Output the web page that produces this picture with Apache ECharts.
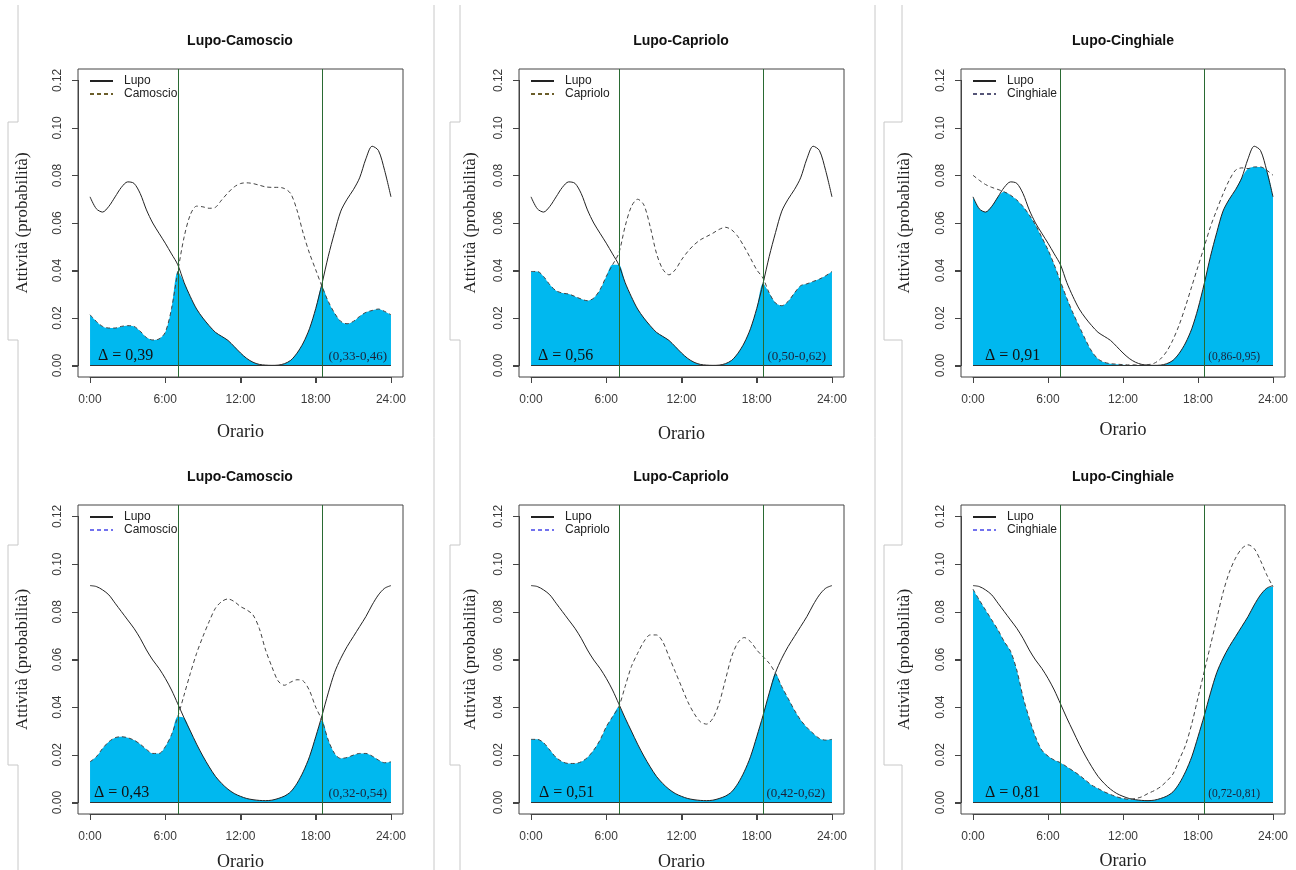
<!DOCTYPE html>
<html><head><meta charset="utf-8">
<script src="https://cdn.jsdelivr.net/npm/echarts@6/dist/echarts.min.js"></script>
<style>html,body{margin:0;padding:0;background:#fff}#c{width:1296px;height:870px}</style>
</head><body><div id="c"></div><script>
// ---------- DATA ----------
const hours = [0,0.5,1,1.5,2,2.5,3,3.5,4,4.5,5,5.5,6,6.5,7,7.5,8,8.5,9,9.5,10,10.5,11,11.5,12,12.5,13,13.5,14,14.5,15,15.5,16,16.5,17,17.5,18,18.5,19,19.5,20,20.5,21,21.5,22,22.5,23,23.5,24];

const lupoTop = [0.0710,0.0660,0.0646,0.0670,0.0710,0.0750,0.0773,0.0767, 0.0724,0.0655,0.0600,0.0557,0.0515,0.0470,0.0424,0.0350, 0.0290,0.0238,0.0200,0.0168,0.0140,0.0123,0.0106,0.0080, 0.0053,0.0030,0.0014,0.0005,0.0002,0.0001,0.0002,0.0008, 0.0022,0.0052,0.0095,0.0155,0.0240,0.0345,0.0460,0.0560, 0.0650,0.0700,0.0740,0.0790,0.0870,0.0923,0.0905,0.0820, 0.0710];
const camoscioTop = [0.0214,0.0186,0.0165,0.0158,0.0158,0.0165,0.0168,0.0165, 0.0145,0.0118,0.0108,0.0112,0.0140,0.0240,0.0396,0.0540, 0.0635,0.0671,0.0668,0.0662,0.0666,0.0697,0.0727,0.0752, 0.0766,0.0769,0.0766,0.0759,0.0752,0.0750,0.0750,0.0745, 0.0724,0.0655,0.0557,0.0473,0.0403,0.0333,0.0270,0.0221, 0.0186,0.0176,0.0186,0.0207,0.0224,0.0232,0.0238,0.0228, 0.0214];
const caprioloTop = [0.0396,0.0396,0.0375,0.0340,0.0315,0.0305,0.0301,0.0291, 0.0280,0.0273,0.0284,0.0319,0.0375,0.0424,0.0473,0.0585, 0.0669,0.0700,0.0676,0.0585,0.0473,0.0406,0.0382,0.0403, 0.0445,0.0480,0.0508,0.0529,0.0543,0.0557,0.0573,0.0582, 0.0571,0.0543,0.0500,0.0452,0.0403,0.0368,0.0305,0.0263, 0.0252,0.0270,0.0305,0.0336,0.0344,0.0354,0.0364,0.0378, 0.0396];
const cinghialeTop = [0.0801,0.0780,0.0762,0.0750,0.0741,0.0731,0.0717,0.0697, 0.0669,0.0634,0.0592,0.0540,0.0487,0.0424,0.0354,0.0284, 0.0221,0.0165,0.0109,0.0060,0.0028,0.0014,0.0008,0.0006, 0.0004,0.0003,0.0003,0.0003,0.0004,0.0010,0.0028,0.0060, 0.0109,0.0172,0.0249,0.0333,0.0417,0.0500,0.0585,0.0655, 0.0722,0.0780,0.0822,0.0832,0.0829,0.0836,0.0836,0.0822, 0.0801];

const lupoBottom = [0.0910,0.0906,0.0892,0.0871,0.0836,0.0801,0.0766,0.0731, 0.0689,0.0640,0.0598,0.0563,0.0521,0.0472,0.0414,0.0355, 0.0300,0.0245,0.0195,0.0150,0.0110,0.0080,0.0056,0.0038, 0.0026,0.0017,0.0012,0.0009,0.0008,0.0010,0.0017,0.0027, 0.0045,0.0080,0.0129,0.0192,0.0276,0.0365,0.0460,0.0545, 0.0605,0.0654,0.0696,0.0738,0.0780,0.0829,0.0871,0.0899, 0.0910];
const camoscioBottom = [0.0171,0.0192,0.0227,0.0255,0.0272,0.0276,0.0272,0.0262, 0.0245,0.0223,0.0206,0.0206,0.0234,0.0285,0.0360,0.0451, 0.0542,0.0626,0.0696,0.0759,0.0815,0.0843,0.0854,0.0843, 0.0822,0.0808,0.0787,0.0730,0.0640,0.0570,0.0510,0.0492, 0.0505,0.0515,0.0510,0.0470,0.0400,0.0345,0.0262,0.0206, 0.0185,0.0189,0.0199,0.0206,0.0206,0.0195,0.0178,0.0167, 0.0171];
const caprioloBottom = [0.0265,0.0265,0.0251,0.0220,0.0189,0.0171,0.0164,0.0164, 0.0171,0.0189,0.0220,0.0262,0.0318,0.0360,0.0402,0.0486, 0.0570,0.0626,0.0675,0.0703,0.0703,0.0675,0.0612,0.0549, 0.0486,0.0423,0.0374,0.0339,0.0329,0.0353,0.0416,0.0514, 0.0612,0.0671,0.0692,0.0675,0.0640,0.0612,0.0584,0.0542, 0.0486,0.0437,0.0388,0.0346,0.0315,0.0290,0.0269,0.0262, 0.0265];
const cinghialeBottom = [0.0895,0.0850,0.0808,0.0766,0.0724,0.0675,0.0635,0.0556, 0.0444,0.0353,0.0276,0.0220,0.0195,0.0178,0.0167,0.0150, 0.0133,0.0115,0.0094,0.0073,0.0059,0.0045,0.0034,0.0024, 0.0017,0.0014,0.0017,0.0024,0.0038,0.0050,0.0066,0.0090, 0.0120,0.0180,0.0240,0.0330,0.0440,0.0550,0.0660,0.0770, 0.0880,0.0965,0.1025,0.1065,0.1081,0.1065,0.1015,0.0955, 0.0905];

const panelTitles = ['Lupo-Camoscio','Lupo-Capriolo','Lupo-Cinghiale','Lupo-Camoscio','Lupo-Capriolo','Lupo-Cinghiale'];
const otherNames = ['Camoscio','Capriolo','Cinghiale','Camoscio','Capriolo','Cinghiale'];
const lupoName = 'Lupo';
const deltaLabels = ['\u0394 = 0,39','\u0394 = 0,56','\u0394 = 0,91','\u0394 = 0,43','\u0394 = 0,51','\u0394 = 0,81'];
const ciLabels = ['(0,33-0,46)','(0,50-0,62)','(0,86-0,95)','(0,32-0,54)','(0,42-0,62)','(0,72-0,81)'];
const sunTimes = [7, 18.5];
const xMin = 0, xMax = 24, xStep = 6;
const xTicks = [0,6,12,18,24];
const xTickLabels = ['0:00','6:00','12:00','18:00','24:00'];
const yMin = 0, yMax = 0.12, yStep = 0.02;
const yTicks = [0,0.02,0.04,0.06,0.08,0.10,0.12];
const xAxisTitle = 'Orario';
const yAxisTitle = 'Attivit\u00e0 (probabilit\u00e0)';

// ---------- LAYOUT / STYLE ----------
const lupoSeries = [lupoTop,lupoTop,lupoTop,lupoBottom,lupoBottom,lupoBottom];
const otherSeries = [camoscioTop,caprioloTop,cinghialeTop,camoscioBottom,caprioloBottom,cinghialeBottom];
// box = R plot frame; the data region is inset by 4% of the range on every side (R's default axis extension)
const layout = [
  {left:78, top:69, w:325, h:308, tx:240, ty:40, yGap:47, xGap:46, dDx:20, cDx:16, ciSize:13},
  {left:519,top:69, w:325, h:308, tx:681, ty:40, yGap:40, xGap:48, dDx:19, cDx:18, ciSize:13},
  {left:961,top:69, w:324, h:308, tx:1123,ty:40, yGap:48, xGap:44, dDx:24, cDx:25, ciSize:11.5},
  {left:78, top:505,w:325, h:309, tx:240, ty:476,yGap:47, xGap:39, dDx:16, cDx:16, ciSize:13},
  {left:519,top:505,w:325, h:309, tx:681, ty:476,yGap:40, xGap:39, dDx:20, cDx:19, ciSize:13},
  {left:961,top:505,w:324, h:309, tx:1123,ty:476,yGap:48, xGap:38, dDx:24, cDx:25, ciSize:11.5}
];
const EXT = 0.04;
const TICK = 6, AXIS_COLOR = '#444';
const legendDash = ['#6b5d2a','#6b5d2a','#555577','#7272ee','#7272ee','#7272ee'];
const SUN = '#2a6a33';
const FILL = '#00b8ef', SANS = '"Liberation Sans", Arial, sans-serif', SERIF = '"Liberation Serif", "Times New Roman", serif';

const pairs = arr => hours.map((h,i)=>[h, arr[i]]);
const overlap = (a,b) => hours.map((h,i)=>[h, Math.min(a[i], b[i])]);

const grids=[], xAxes=[], yAxes=[], series=[], legends=[], graphics=[];
const n = layout.length;
const xr = xMax-xMin, yr = yMax-yMin;

// page-frame decorations (light gray rules of the source document)
function bracket(X, d){
  return {type:'polyline', silent:true, shape:{points:[[X,5],[X,122],[X-d,122],[X-d,340],[X,340],[X,545],[X-d,545],[X-d,765],[X,765],[X,870]]},
    style:{stroke:'#c8c8c8', lineWidth:1, fill:null}};
}
graphics.push(bracket(18,10), bracket(460,10), bracket(902,18));
graphics.push({type:'line', silent:true, shape:{x1:434,y1:5,x2:434,y2:870}, style:{stroke:'#c8c8c8', lineWidth:1}});
graphics.push({type:'line', silent:true, shape:{x1:875,y1:5,x2:875,y2:870}, style:{stroke:'#c8c8c8', lineWidth:1}});

layout.forEach((L,i)=>{
  // frame grid (box + sunrise/sunset lines), index i
  grids[i] = {left:L.left, top:L.top, width:L.w, height:L.h, show:true, borderColor:AXIS_COLOR, borderWidth:1, backgroundColor:'transparent', z:0};
  xAxes[i] = {gridIndex:i, type:'value', show:false, min:xMin-EXT*xr, max:xMax+EXT*xr};
  yAxes[i] = {gridIndex:i, type:'value', show:false, min:yMin-EXT*yr, max:yMax+EXT*yr};
  // data grid, index n+i
  const fx = L.w/(1+2*EXT), fy = L.h/(1+2*EXT);
  const offX = EXT*fx, offY = EXT*fy;
  const dLeft = L.left+offX, dTop = L.top+offY;
  grids[n+i] = {left:dLeft, top:dTop, width:fx, height:fy, show:false, containLabel:false, outerBoundsMode:'none'};
  xAxes[n+i] = {gridIndex:n+i, type:'value', min:xMin, max:xMax, interval:xStep, position:'bottom', offset:offY,
    name:xAxisTitle, nameLocation:'middle', nameGap:L.xGap,
    nameTextStyle:{fontFamily:SERIF, fontSize:18, color:'#222'},
    axisLine:{show:true, onZero:false, lineStyle:{color:AXIS_COLOR, width:1}}, splitLine:{show:false},
    axisTick:{show:true, length:TICK, lineStyle:{color:AXIS_COLOR, width:1}},
    axisLabel:{formatter:v=>xTickLabels[Math.round((v-xMin)/xStep)], margin:17, fontFamily:SANS, fontSize:12, color:'#3a3a3a', showMinLabel:true, showMaxLabel:true}
  };
  yAxes[n+i] = {gridIndex:n+i, type:'value', min:yMin, max:yMax, interval:yStep, position:'left', offset:offX,
    name:yAxisTitle, nameLocation:'middle', nameGap:L.yGap, nameRotate:90,
    nameTextStyle:{fontFamily:SERIF, fontSize:17, color:'#222'},
    axisLine:{show:true, onZero:false, lineStyle:{color:AXIS_COLOR, width:1}}, splitLine:{show:false},
    axisTick:{show:true, length:TICK, lineStyle:{color:AXIS_COLOR, width:1}},
    axisLabel:{rotate:90, formatter:v=>v.toFixed(2), margin:14, fontFamily:SANS, fontSize:12, color:'#3a3a3a', showMinLabel:true, showMaxLabel:true}
  };
  series.push({type:'line', name:'overlap'+i, xAxisIndex:n+i, yAxisIndex:n+i, data:overlap(lupoSeries[i], otherSeries[i]),
    smooth:0.3, symbol:'none', lineStyle:{width:0}, areaStyle:{color:FILL, opacity:1}, silent:true, z:1,
    markLine:{silent:true, symbol:'none', label:{show:false}, lineStyle:{color:'#333', width:1, type:'solid'},
      data:[[{coord:[xMin,0]},{coord:[xMax,0]}]]}
  });
  series.push({type:'line', name:'sun'+i, xAxisIndex:i, yAxisIndex:i, data:[], silent:true, z:2, color:SUN,
    markLine:{silent:true, symbol:'none', label:{show:false},
      lineStyle:{color:SUN, width:1, type:'solid', opacity:1},
      data:sunTimes.map(t=>({xAxis:t}))}
  });
  series.push({type:'line', name:lupoName, xAxisIndex:n+i, yAxisIndex:n+i, data:pairs(lupoSeries[i]),
    smooth:0.3, symbol:'none', lineStyle:{color:'#222', width:1}, z:3, silent:true});
  series.push({type:'line', name:otherNames[i], xAxisIndex:n+i, yAxisIndex:n+i, data:pairs(otherSeries[i]),
    smooth:0.3, symbol:'none', lineStyle:{color:'#444', width:1, type:[4,3]}, z:3, silent:true});
  legends.push({left:L.left+11, top:L.top+6, orient:'vertical', itemWidth:23, itemHeight:12, itemGap:1, padding:0,
    selectedMode:false, itemStyle:{opacity:0, borderWidth:0},
    data:[{name:lupoName, lineStyle:{color:'#222'}}, {name:otherNames[i], lineStyle:{color:legendDash[i]}}],
    textStyle:{fontFamily:SANS, fontSize:12, color:'#222', padding:[0,0,0,6]}});
  graphics.push({type:'text', x:L.tx, y:L.ty+1, silent:true, style:{text:panelTitles[i], font:'bold 14px '+SANS, fill:'#111', align:'center', verticalAlign:'middle'}});
  graphics.push({type:'text', x:L.left+L.dDx, y:L.top+L.h-21, silent:true, z:10, style:{text:deltaLabels[i], font:'16px '+SERIF, fill:'#111', align:'left', verticalAlign:'middle'}});
  graphics.push({type:'text', x:L.left+L.w-L.cDx, y:L.top+L.h-20, silent:true, z:10, style:{text:ciLabels[i], font:L.ciSize+'px '+SERIF, fill:'#1a2238', align:'right', verticalAlign:'middle'}});
  // outward R-style tick marks on the frame, at the data grid's linear scale positions
  const bottom = L.top + L.h, left = L.left;
  const ticks = [];
  xTicks.forEach(v=>{
    const px = Math.round(dLeft + (v-xMin)/xr*fx) + 0.5;
    ticks.push({type:'line', silent:true, shape:{x1:px, y1:bottom, x2:px, y2:bottom+TICK}, style:{stroke:AXIS_COLOR, lineWidth:1}});
  });
  yTicks.forEach(v=>{
    const py = Math.round(dTop + (1-(v-yMin)/yr)*fy) + 0.5;
    ticks.push({type:'line', silent:true, shape:{x1:left-TICK, y1:py, x2:left, y2:py}, style:{stroke:AXIS_COLOR, lineWidth:1}});
  });
  graphics.push({type:'group', silent:true, z:60, children:ticks});
});

const chart = echarts.init(document.getElementById('c'), null, {renderer:'canvas'});
chart.setOption({animation:false, backgroundColor:'#fff', grid:grids, xAxis:xAxes, yAxis:yAxes, series:series, legend:legends, graphic:{elements:graphics}, tooltip:{show:false}});
</script></body></html>
